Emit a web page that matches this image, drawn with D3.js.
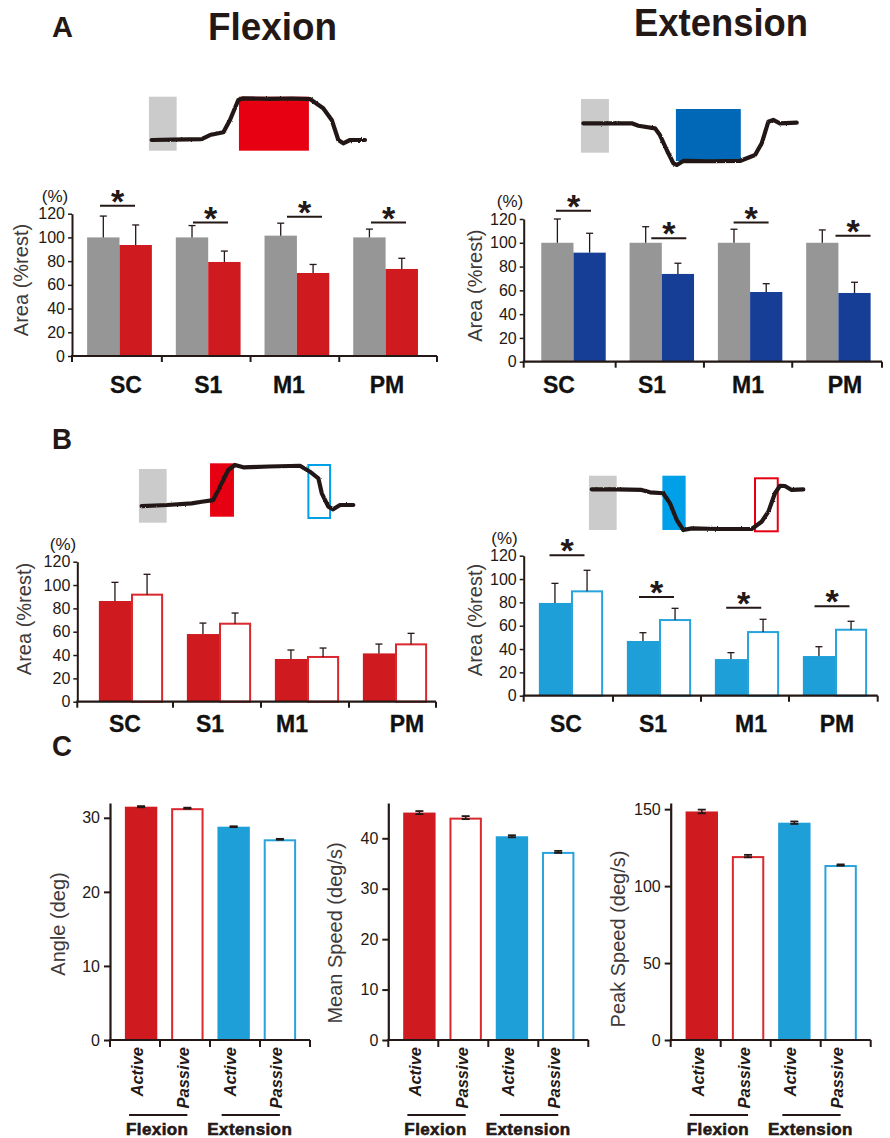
<!DOCTYPE html>
<html>
<head>
<meta charset="utf-8">
<script src="https://cdn.jsdelivr.net/npm/d3@7"></script>
<style>
  body { margin: 0; background: #fff; }
  svg { display: block; font-family: "Liberation Sans", Arial, Helvetica, sans-serif; }
</style>
</head>
<body>
<svg id="fig" width="890" height="1138"></svg>
<script>
// ---------------- data ----------------
const regions = ["SC", "S1", "M1", "PM"];
const areaTicks = [0, 20, 40, 60, 80, 100, 120];

// A: activated area during movement relative to rest (% rest), mean + SD
const flexRestArea = [100, 100, 101.5, 100];
const flexRestErr  = [18, 10, 10.5, 7];
const flexMoveArea = [93.6, 79.3, 70, 73.4];
const flexMoveErr  = [16.9, 9.2, 7.2, 9];
const flexMoveSig  = [126.7, 112.5, 117.5, 112.5];

const extRestArea = [100, 100, 100, 100];
const extRestErr  = [20, 13.5, 11.4, 10.8];
const extMoveArea = [91.7, 73.8, 58.6, 57.8];
const extMoveErr  = [16.3, 9, 7, 9];
const extMoveSig  = [127, 103.8, 117, 106];

// B: active vs passive movement
const flexActiveArea  = [86.3, 58, 36.6, 41.4];
const flexActiveErr   = [16, 9.4, 7.7, 8];
const flexPassiveArea = [92.6, 67.7, 39.2, 50];
const flexPassiveErr  = [16.6, 8.3, 6.8, 8.6];

const extActiveArea  = [79.5, 46.9, 31.4, 34];
const extActiveErr   = [16.8, 7.1, 5.5, 8];
const extPassiveArea = [90.3, 65.7, 55.4, 57.4];
const extPassiveErr  = [17.2, 9.2, 10.1, 6.4];
const extPassiveSig  = [120.3, 84.6, 75.4, 76.6];

// C: movement kinematics
const conditions = ["Active", "Passive", "Active", "Passive"];
const movements  = ["Flexion", "Extension"];
const angleDeg   = [31.5, 31.3, 28.8, 27.1];
const angleErr   = [0.08, 0.07, 0.06, 0.06];
const meanSpeed  = [45.1, 44.1, 40.4, 37.3];
const meanSpeedErr = [0.3, 0.3, 0.2, 0.2];
const peakSpeed  = [148.5, 119.5, 141.2, 113.7];
const peakSpeedErr = [1.2, 0.8, 0.8, 0.4];
const angleTicks = [0, 10, 20, 30];
const meanSpeedTicks = [0, 10, 20, 30, 40];
const peakSpeedTicks = [0, 50, 100, 150];

// joint-angle traces: [time (% of trial), angle (deg)]
const flexTraceA = [[0,0],[10,0.3],[23.4,0.7],[27.3,3.6],[33.6,5.6],[36.7,14.5],[40.6,28.9],[42.9,30.1],
  [55,29.8],[66,30],[74.2,29.6],[80.4,22.9],[84.4,14.5],[87.5,0],[89.8,-2.4],[93,0],[100,0]];
const extTraceA = [[0,0],[10,0],[22.7,0],[25.8,-1.9],[33.6,-3.9],[35.9,-9.1],[39.1,-20.7],[42.2,-31],
  [43.8,-32.3],[46.9,-29.2],[60,-29.4],[73.4,-29.2],[80.5,-24.6],[83.6,-15.5],[86.7,1.2],[89,2.6],[92.1,0],[100,0.5]];
const flexTraceB = [[0,-0.8],[12,0],[23.6,1.3],[28.4,2.5],[33.8,3.8],[37,14.1],[40.9,26.9],[44.1,30.8],
  [48,29],[60,29.6],[74.8,30.2],[79.5,25.6],[83.5,20.5],[85.1,9],[88.2,-1.3],[90.5,-3.3],[93.7,0],[100,0]];
const extTraceB = [[0,0],[12,0],[23.6,-0.5],[27.6,-2.3],[33.8,-3],[37,-10.6],[40.2,-23.2],[43.3,-30.8],
  [47.3,-29.5],[60,-30],[75.6,-30],[80.3,-24.5],[83.5,-16.9],[86.6,-3],[89,2.7],[91.3,2.5],[94.5,-0.5],[100,0]];

// analysis windows on the trace time axis: [start, end]
const flexWindowsA = [[-1.3, 11.7], [40.9, 73.7]];
const extWindowsA  = [[-1.1, 12], [43.4, 73.8]];
const flexWindowsB = [[-1.3, 11.8], [32.3, 43.6], [78.3, 89.5]];
const extWindowsB  = [[-1.3, 11.8], [33.4, 44.4], [76.7, 88.4]];

// ---------------- styles ----------------
const INK = "#231815";
const LABEL = "#3e3a39";
const GRAY = "#969696";
const RED = "#cf1a20";
const NAVY = "#173e96";
const SKY = "#1f9fd8";
const CUE_GRAY = "#cbcbcb";
const CUE_RED = "#e60012";
const CUE_BLUE = "#0068b7";
const CUE_SKY = "#00a0e9";

const svg = d3.select("#fig");

// slight roughness for the pen-drawn traces
const defs = svg.append("defs");
const rough = defs.append("filter").attr("id", "rough").attr("x", "-5%").attr("y", "-20%")
  .attr("width", "110%").attr("height", "140%");
rough.append("feTurbulence").attr("type", "fractalNoise").attr("baseFrequency", 0.8)
  .attr("numOctaves", 1).attr("seed", 3).attr("result", "n");
rough.append("feDisplacementMap").attr("in", "SourceGraphic").attr("in2", "n")
  .attr("scale", 2.2).attr("xChannelSelector", "R").attr("yChannelSelector", "G");

// ---------------- headings (condensed bold) ----------------
const heading = (txt, x, y, size, anchor, width) => svg.append("text")
  .attr("x", x).attr("y", y).attr("text-anchor", anchor)
  .attr("font-size", size).attr("font-weight", "bold").attr("fill", INK)
  .attr("textLength", width).attr("lengthAdjust", "spacingAndGlyphs").text(txt);
heading("A", 52, 37, 29, "start", 21);
heading("B", 52, 449, 29, "start", 20);
heading("C", 52, 756, 29, "start", 20);
heading("Flexion", 272.5, 40, 39, "middle", 129);
heading("Extension", 721, 36, 39, "middle", 174);

// ---------------- traces ----------------
function tracePanel(cfg) {
  const g = svg.append("g");
  const x = d3.scaleLinear().domain([0, 100]).range([cfg.x0, cfg.x1]);
  const y = d3.scaleLinear().domain([0, cfg.dir * 30]).range([cfg.yRest, cfg.yMoved]);
  cfg.windows.forEach((w, i) => {
    const st = cfg.windowStyles[i];
    const inset = st.stroke ? 1 : 0;
    g.append("rect")
      .attr("x", x(w[0]) + inset).attr("width", x(w[1]) - x(w[0]) - 2 * inset)
      .attr("y", st.y0 + inset).attr("height", st.y1 - st.y0 - 2 * inset)
      .attr("fill", st.fill || "none")
      .attr("stroke", st.stroke || "none").attr("stroke-width", st.stroke ? 2 : 0);
  });
  g.append("path").datum(cfg.trace)
    .attr("d", d3.line().x(d => x(d[0])).y(d => y(d[1])))
    .attr("fill", "none").attr("stroke", INK).attr("stroke-width", 4.2)
    .attr("stroke-linejoin", "round").attr("stroke-linecap", "round")
    .attr("filter", "url(#rough)");
}

tracePanel({ trace: flexTraceA, x0: 151.7, x1: 365, yRest: 140, yMoved: 98.5, dir: 1,
  windows: flexWindowsA,
  windowStyles: [{ fill: CUE_GRAY, y0: 96.7, y1: 150.7 }, { fill: CUE_RED, y0: 96.7, y1: 150.7 }] });
tracePanel({ trace: extTraceA, x0: 583.3, x1: 796.7, yRest: 123.3, yMoved: 162, dir: -1,
  windows: extWindowsA,
  windowStyles: [{ fill: CUE_GRAY, y0: 99, y1: 152.7 }, { fill: CUE_BLUE, y0: 109, y1: 161 }] });
tracePanel({ trace: flexTraceB, x0: 141.7, x1: 353.3, yRest: 505, yMoved: 466, dir: 1,
  windows: flexWindowsB,
  windowStyles: [{ fill: CUE_GRAY, y0: 469, y1: 522.7 }, { fill: CUE_RED, y0: 463.3, y1: 516.7 },
                 { stroke: CUE_SKY, y0: 464, y1: 519 }] });
tracePanel({ trace: extTraceB, x0: 591.7, x1: 803.3, yRest: 489.3, yMoved: 529, dir: -1,
  windows: extWindowsB,
  windowStyles: [{ fill: CUE_GRAY, y0: 475.7, y1: 530 }, { fill: CUE_SKY, y0: 475.7, y1: 530 },
                 { stroke: CUE_RED, y0: 477.3, y1: 532.3 }] });

// ---------------- grouped area bars (A, B) ----------------
function areaPanel(cfg) {
  const g = svg.append("g");
  const y = d3.scaleLinear().domain([0, 120]).range([cfg.yBottom, cfg.yTop]);
  const pad = 0.27;
  const start = cfg.c0 - cfg.step * (1 + pad) / 2;
  const x = d3.scaleBand().domain(regions)
    .range([start, start + cfg.step * (regions.length + pad)]).padding(pad);
  const xi = d3.scaleBand().domain(d3.range(cfg.series.length)).range([0, x.bandwidth()]);
  const center = r => x(r) + x.bandwidth() / 2;

  cfg.series.forEach((s, si) => {
    const bx = r => x(r) + xi(si);
    const bars = g.append("g");
    regions.forEach((r, i) => {
      const open = !!s.stroke;
      const inset = open ? 1 : 0;
      bars.append("rect")
        .attr("x", bx(r) + inset).attr("width", xi.bandwidth() - 2 * inset)
        .attr("y", y(s.values[i]) + inset).attr("height", y(0) - y(s.values[i]) - inset)
        .attr("fill", open ? "#fff" : s.fill)
        .attr("stroke", open ? s.stroke : "none").attr("stroke-width", open ? 2 : 0);
      const ex = bx(r) + xi.bandwidth() / 2;
      const top = y(s.values[i] + s.errs[i]);
      bars.append("line").attr("x1", ex).attr("x2", ex)
        .attr("y1", y(s.values[i]) + (open ? 1 : 0)).attr("y2", top)
        .attr("stroke", INK).attr("stroke-width", 1.3);
      bars.append("line").attr("x1", ex - 3.5).attr("x2", ex + 3.5)
        .attr("y1", top).attr("y2", top).attr("stroke", INK).attr("stroke-width", 1.3);
    });
  });

  // y axis
  const ya = g.append("g").attr("transform", `translate(${cfg.axisX},0)`)
    .call(d3.axisLeft(y).tickValues(areaTicks).tickSize(4).tickSizeOuter(0).tickPadding(3));
  ya.select(".domain").attr("stroke", INK).attr("stroke-width", 2);
  ya.selectAll(".tick line").attr("stroke", INK).attr("stroke-width", 1.5);
  ya.selectAll(".tick text").attr("font-size", 16).attr("fill", INK)
    .style("font-family", "'Liberation Sans', Arial, sans-serif");

  // x axis with ticks between regions
  const tickXs = [cfg.axisX];
  for (let i = 0; i < regions.length - 1; i++)
    tickXs.push((center(regions[i]) + center(regions[i + 1])) / 2 - 2);
  tickXs.push(cfg.xEnd);
  g.append("line").attr("x1", cfg.axisX - 1).attr("x2", cfg.xEnd)
    .attr("y1", y(0)).attr("y2", y(0)).attr("stroke", INK).attr("stroke-width", 2.2);
  g.selectAll(".xt").data(tickXs).enter().append("line")
    .attr("x1", d => d).attr("x2", d => d).attr("y1", y(0)).attr("y2", y(0) + 6)
    .attr("stroke", INK).attr("stroke-width", 2);

  g.selectAll(".cat").data(regions).enter().append("text")
    .attr("x", (d, i) => center(d) + cfg.labelDx[i]).attr("y", cfg.labelY)
    .attr("text-anchor", "middle").attr("font-size", 23).attr("font-weight", "bold")
    .attr("fill", "#111").attr("stroke", "#111").attr("stroke-width", 0.3).text(d => d);

  // significance markers
  if (cfg.sig) {
    regions.forEach((r, i) => {
      const cx = center(r) + cfg.sigShift[i];
      const ly = y(cfg.sig[i]);
      g.append("line").attr("x1", cx - 17.5).attr("x2", cx + 17.5).attr("y1", ly).attr("y2", ly)
        .attr("stroke", INK).attr("stroke-width", 2);
      g.append("text").attr("x", cx).attr("y", ly + 7).attr("text-anchor", "middle")
        .attr("font-size", 34).attr("font-weight", "bold").attr("fill", INK).text("*");
    });
  }

  g.append("text").attr("x", cfg.pctX).attr("y", y(120) - 12).attr("text-anchor", "middle")
    .attr("font-size", 17).attr("fill", INK).text("(%)");
  g.append("text").attr("transform", `translate(${cfg.ylabelX},${cfg.ylabelY}) rotate(-90)`)
    .attr("text-anchor", "middle").attr("font-size", 20).attr("fill", LABEL).text("Area (%rest)");
}

areaPanel({ axisX: 72, xEnd: 437, yTop: 213.7, yBottom: 356, c0: 119.5, step: 88.7,
  series: [{ values: flexRestArea, errs: flexRestErr, fill: GRAY },
           { values: flexMoveArea, errs: flexMoveErr, fill: RED }],
  sig: flexMoveSig, sigShift: [-2, 2.3, 7.6, 2.9], labelDx: [6.5, 0, -8, 1.4], labelY: 393,
  pctX: 55, ylabelX: 28, ylabelY: 280 });
areaPanel({ axisX: 523.7, xEnd: 882, yTop: 219, yBottom: 361.7, c0: 573.5, step: 88.3,
  series: [{ values: extRestArea, errs: extRestErr, fill: GRAY },
           { values: extMoveArea, errs: extMoveErr, fill: NAVY }],
  sig: extMoveSig, sigShift: [0, 7, 1, 14.6], labelDx: [-14.5, -9.8, -2, 6.6], labelY: 393,
  pctX: 510, ylabelX: 482, ylabelY: 285.7 });
areaPanel({ axisX: 77.3, xEnd: 436, yTop: 561.7, yBottom: 701.7, c0: 131, step: 88,
  series: [{ values: flexActiveArea, errs: flexActiveErr, fill: RED },
           { values: flexPassiveArea, errs: flexPassiveErr, stroke: "#d9282e" }],
  sig: null, labelDx: [-6, -9, -15, 12], labelY: 732,
  pctX: 63, ylabelX: 31, ylabelY: 619 });
areaPanel({ axisX: 523.7, xEnd: 877.7, yTop: 555.7, yBottom: 695.7, c0: 571, step: 88,
  series: [{ values: extActiveArea, errs: extActiveErr, fill: SKY },
           { values: extPassiveArea, errs: extPassiveErr, stroke: "#29a3dc" }],
  sig: extPassiveSig, sigShift: [-4, -2.5, -3.3, -3], labelDx: [-5, -6, 4, 2], labelY: 732,
  pctX: 504.5, ylabelX: 482, ylabelY: 620 });

// ---------------- kinematics (C) ----------------
function kinPanel(cfg) {
  const g = svg.append("g");
  const y = d3.scaleLinear().domain([0, cfg.yMax]).range([1040, 803]);
  const x = d3.scaleBand().domain(d3.range(conditions.length))
    .range([cfg.axisX + 1, cfg.axisX + 200]).padding(0.3);
  const xt = d3.scaleLinear().domain([0, 4]).range([cfg.axisX, cfg.axisX + 200]);
  const fills = [RED, "#fff", SKY, "#fff"];
  const strokes = [null, "#d9282e", null, "#29a3dc"];
  const center = i => x(i) + x.bandwidth() / 2;

  cfg.values.forEach((v, i) => {
    const open = !!strokes[i];
    const inset = open ? 1 : 0;
    g.append("rect").attr("x", x(i) + inset).attr("width", x.bandwidth() - 2 * inset)
      .attr("y", y(v) + inset).attr("height", y(0) - y(v) - inset)
      .attr("fill", fills[i]).attr("stroke", strokes[i] || "none").attr("stroke-width", open ? 2 : 0);
    const e = cfg.errs[i];
    const cx = center(i);
    g.append("line").attr("x1", cx).attr("x2", cx).attr("y1", y(v - e)).attr("y2", y(v + e))
      .attr("stroke", INK).attr("stroke-width", 1.5);
    [v - e, v + e].forEach(c => g.append("line").attr("x1", cx - 4).attr("x2", cx + 4)
      .attr("y1", y(c)).attr("y2", y(c)).attr("stroke", INK).attr("stroke-width", 1.8));
  });

  const ya = g.append("g").attr("transform", `translate(${cfg.axisX},0)`)
    .call(d3.axisLeft(y).tickValues(cfg.ticks).tickSize(6).tickSizeOuter(0).tickPadding(4));
  ya.select(".domain").attr("stroke", INK).attr("stroke-width", 2.2);
  ya.selectAll(".tick line").attr("stroke", INK).attr("stroke-width", 2);
  ya.selectAll(".tick text").attr("font-size", 16).attr("fill", INK)
    .style("font-family", "'Liberation Sans', Arial, sans-serif");

  g.append("line").attr("x1", cfg.axisX - 1).attr("x2", cfg.axisX + 200)
    .attr("y1", y(0)).attr("y2", y(0)).attr("stroke", INK).attr("stroke-width", 2.2);
  g.selectAll(".xt").data(d3.range(5)).enter().append("line")
    .attr("x1", d => xt(d)).attr("x2", d => xt(d)).attr("y1", y(0)).attr("y2", y(0) + 7)
    .attr("stroke", INK).attr("stroke-width", 2);

  g.selectAll(".cond").data(conditions).enter().append("text")
    .attr("transform", (d, i) => `translate(${center(i) + 2},1047) rotate(-90)`)
    .attr("text-anchor", "end").attr("font-size", 16.5).attr("font-style", "italic")
    .attr("font-weight", "bold").attr("fill", INK).text(d => d);

  movements.forEach((m, j) => {
    const a = center(2 * j), b = center(2 * j + 1);
    g.append("line").attr("x1", a - 12).attr("x2", b).attr("y1", 1115).attr("y2", 1115)
      .attr("stroke", INK).attr("stroke-width", 2);
    g.append("text").attr("x", (a + b) / 2 - 7).attr("y", 1135).attr("text-anchor", "middle")
      .attr("font-size", 17).attr("font-weight", "bold").attr("letter-spacing", 0.4)
      .attr("fill", INK).attr("stroke", INK).attr("stroke-width", 0.6).text(m);
  });

  g.append("text").attr("transform", `translate(${cfg.ylabelX},${cfg.ylabelY}) rotate(-90)`)
    .attr("text-anchor", "middle").attr("font-size", 20).attr("fill", LABEL).text(cfg.ylabel);
}

kinPanel({ axisX: 110, yMax: 32, values: angleDeg, errs: angleErr, ticks: angleTicks,
  ylabel: "Angle (deg)", ylabelX: 65, ylabelY: 924 });
kinPanel({ axisX: 388.3, yMax: 47, values: meanSpeed, errs: meanSpeedErr, ticks: meanSpeedTicks,
  ylabel: "Mean Speed (deg/s)", ylabelX: 342, ylabelY: 933 });
kinPanel({ axisX: 670.7, yMax: 154, values: peakSpeed, errs: peakSpeedErr, ticks: peakSpeedTicks,
  ylabel: "Peak Speed (deg/s)", ylabelX: 625, ylabelY: 939 });
</script>
</body>
</html>
